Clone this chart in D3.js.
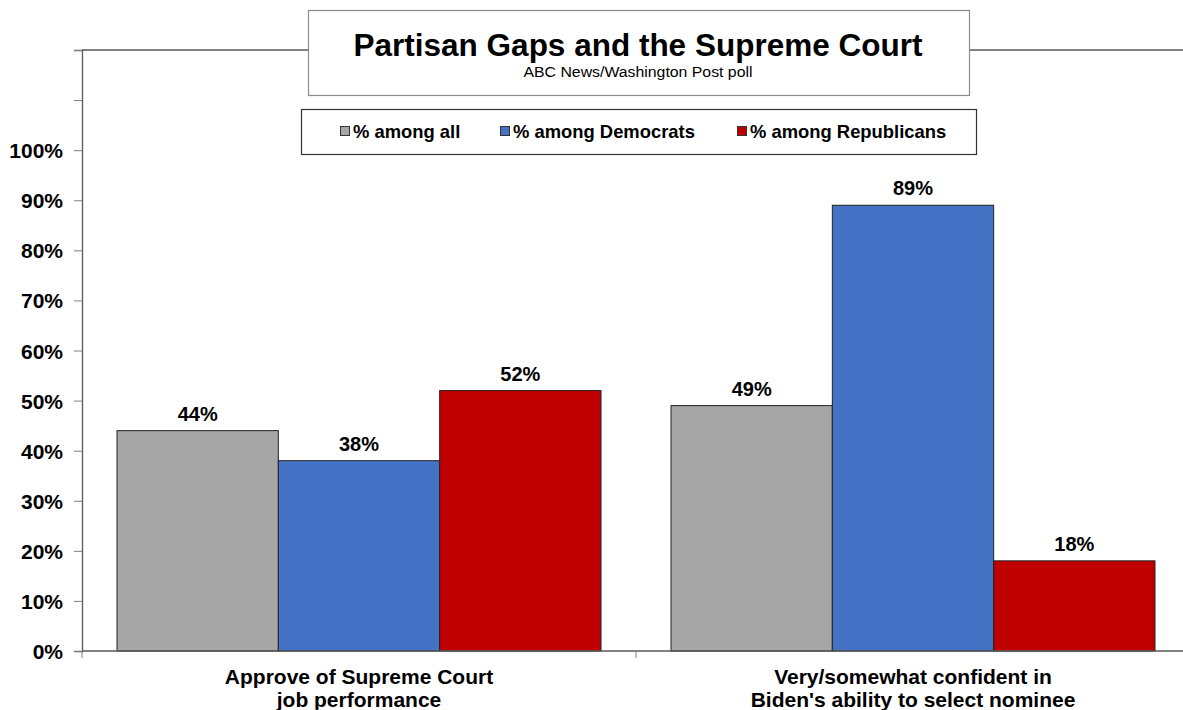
<!DOCTYPE html>
<html><head><meta charset="utf-8">
<script src="https://cdn.jsdelivr.net/npm/d3@7"></script>
<style>body{margin:0;background:#fff}svg{display:block;font-family:"Liberation Sans",Arial,sans-serif}</style>
</head><body><svg id="c" width="1183" height="710"></svg>
<script>
const categories = [["Approve of Supreme Court","job performance"],["Very/somewhat confident in","Biden's ability to select nominee"]];
const seriesNames = ["% among all","% among Democrats","% among Republicans"];
const seriesColors = ["#A6A6A6","#4472C4","#C00000"];
const valuesAll = [44, 49];
const valuesDem = [38, 89];
const valuesRep = [52, 18];
const tickValues = [0,10,20,30,40,50,60,70,80,90,100,110,120];
const title = "Partisan Gaps and the Supreme Court";
const subtitle = "ABC News/Washington Post poll";

const series = [valuesAll, valuesDem, valuesRep];
const svg = d3.select("#c");
const x0 = d3.scaleBand().domain(d3.range(categories.length)).range([82, 1190]).padding(0);
const barW = (x0.bandwidth() - 70) / 3;
const x1 = d3.scaleBand().domain(d3.range(series.length)).range([0, x0.bandwidth()]).paddingInner(0).paddingOuter(35 / barW);
const y = d3.scaleLinear().domain([0,120]).range([651, 50]);

// frame top line
svg.append("line").attr("x1",82).attr("x2",1183).attr("y1",y(120)).attr("y2",y(120)).attr("stroke","#595959").attr("stroke-width",1.3);

// y axis
const yAx = svg.append("g").attr("transform","translate(82,0)")
  .call(d3.axisLeft(y).tickValues(tickValues).tickSize(8).tickFormat(d => d<=100 ? d+"%" : ""));
yAx.select(".domain").attr("stroke","#595959").attr("stroke-width",1.3);
yAx.selectAll(".tick line").attr("stroke","#7f7f7f");
yAx.selectAll(".tick text").attr("x",-19).attr("dy","0.36em").attr("font-size",21).attr("font-weight","bold").attr("fill","#000")
  .attr("font-family","Liberation Sans, Arial, sans-serif");

// bars
categories.forEach((c, ci) => {
  series.forEach((s, si) => {
    const g = svg.append("g");
    g.append("rect").attr("x", x0(ci)+x1(si)).attr("y", y(s[ci])).attr("width", x1.bandwidth()).attr("height", y(0)-y(s[ci]))
      .attr("fill", seriesColors[si]).attr("stroke","#222").attr("stroke-width",1);
    g.append("text").attr("x", x0(ci)+x1(si)+x1.bandwidth()/2).attr("y", y(s[ci])-10).attr("text-anchor","middle")
      .attr("font-size",20).attr("font-weight","bold").text(s[ci]+"%");
  });
});

// x axis
svg.append("line").attr("x1",82).attr("x2",1183).attr("y1",y(0)).attr("y2",y(0)).attr("stroke","#595959").attr("stroke-width",1.3);
d3.range(categories.length).forEach(i => {
  svg.append("line").attr("x1",x0(i)).attr("x2",x0(i)).attr("y1",y(0)).attr("y2",y(0)+7).attr("stroke","#7f7f7f");
});
categories.forEach((c, ci) => {
  const t = svg.append("text").attr("text-anchor","middle").attr("font-size",21).attr("font-weight","bold");
  c.forEach((line, li) => t.append("tspan").attr("x", x0(ci)+x0.bandwidth()/2).attr("y", 684+li*23).text(line));
});

// title box
svg.append("rect").attr("x",308.5).attr("y",10.5).attr("width",661).attr("height",85).attr("fill","#fff").attr("stroke","#8c8c8c").attr("stroke-width",1.2);
svg.append("text").attr("x",638).attr("y",56).attr("text-anchor","middle").attr("font-size",31.5).attr("font-weight","bold").text(title);
svg.append("text").attr("x",638).attr("y",77).attr("text-anchor","middle").attr("font-size",14).attr("textLength",229).attr("lengthAdjust","spacingAndGlyphs").text(subtitle);

// legend box
svg.append("rect").attr("x",301.5).attr("y",109.5).attr("width",675).attr("height",45).attr("fill","#fff").attr("stroke","#333").attr("stroke-width",1.2);
const legX = [340, 500, 737];
seriesNames.forEach((n, i) => {
  svg.append("rect").attr("x",legX[i]+0.5).attr("y",126.5).attr("width",9).attr("height",9).attr("fill",seriesColors[i]).attr("stroke","#333").attr("stroke-width",1);
  svg.append("text").attr("x",legX[i]+13).attr("y",138).attr("font-size",18.4).attr("font-weight","bold").text(n);
});
</script></body></html>
